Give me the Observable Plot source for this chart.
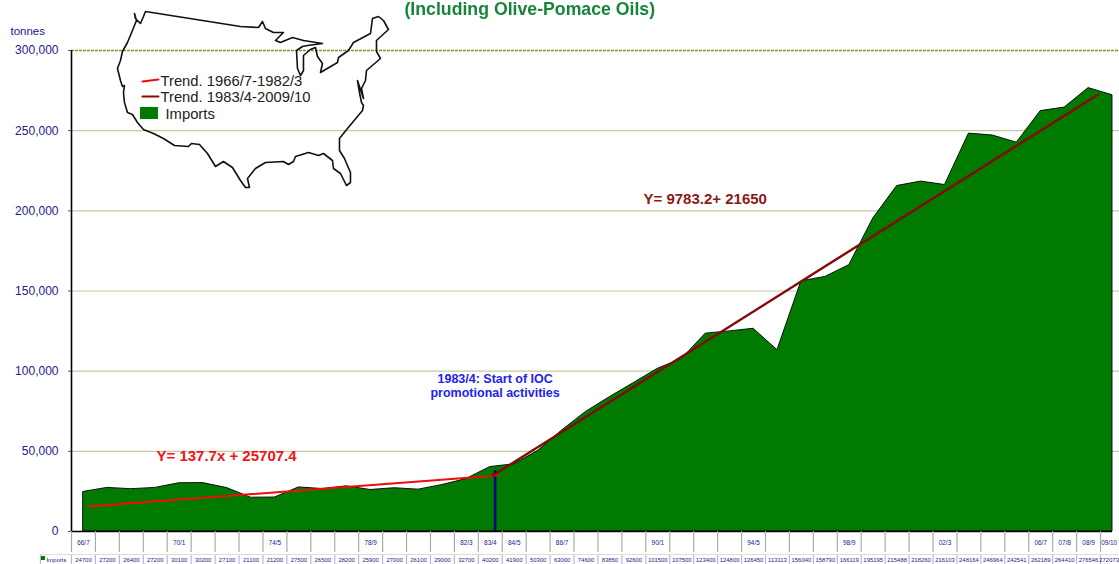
<!DOCTYPE html>
<html>
<head>
<meta charset="utf-8">
<script src="https://cdn.jsdelivr.net/npm/d3@7"></script>
<script src="https://cdn.jsdelivr.net/npm/@observablehq/plot@0.6"></script>
<style>
html,body{margin:0;padding:0;background:#fff;overflow:hidden}
svg{filter:blur(0.35px)}
</style>
</head>
<body>
<div id="chart"></div>
<script>
const imports = [24700,27200,26400,27200,30100,30200,27100,21100,21200,27500,26500,28200,25900,27000,26100,29000,32700,40200,41900,50300,63000,74600,83850,92600,101500,107500,123400,124800,126450,113113,156040,158790,166119,195195,215488,218260,216103,248164,246964,242541,262189,264410,276546,272073];
const seasonLabels = {0:"66/7",4:"70/1",8:"74/5",12:"78/9",16:"82/3",17:"83/4",18:"84/5",20:"86/7",24:"90/1",28:"94/5",32:"98/9",36:"02/3",40:"06/7",41:"07/8",42:"08/9",43:"09/10"};
const yTicks = [0,50000,100000,150000,200000,250000,300000];
const trendEarly = [{x:0.2,y:15600},{x:17.3,y:34900}];
const trendLate = [{x:17.1,y:34900},{x:42.4,y:272550}];

// USA outline, in sketch units of the page
const mapX = [145,240,258,262,265,273,283,275,280,292,303,322,307,302,296,297,300,303,303,310,315,317,322,320,337,338,348,353,370,372,378,383,388,376,376,380,366,365,361,363,357,359,361,363,362,347,339,339,344,350,350,346,340,333,332,323,318,308,295,293,288,283,265,255,247,249,245,240,232,223,215,207,199,191,188,174,163,153,143,137,132,127,124,123,124,122,120,117,120,122,127,132,136,134,135,140,143,145];
const mapY = [11,26,27,21,28,32,32,40,42,37,40,43,45,46,50,68,75,70,55,49,47,56,63,72,62,57,50,42,33,18,16,20,29,40,51,58,70,80,88,98,80,92,102,105,110,128,138,150,158,172,182,185,173,168,160,153,155,152,156,161,164,161,162,168,178,187,187,180,167,161,166,153,144,143,146,145,138,133,129,122,114,112,102,92,85,86,80,68,60,51,42,30,20,13,18,23,16,11];

const sx = p => (p - 83) / 23.93;
const sy = p => (531 - p) / 481 * 300000;
const idx = imports.map((_, i) => i);
const F = "Liberation Sans";
const navy = "#20208a";
const lastCol = i => (i === 43 ? 42.86 : i);

const label = (t, px, py, o) => Plot.text([{t, x: sx(px), y: sy(py)}], {x: "x", y: "y", text: "t", textAnchor: "start", lineAnchor: "middle", fontFamily: F, ...o});

const chart = Plot.plot({
  width: 1119, height: 564,
  marginLeft: 71, marginRight: 7, marginTop: 50, marginBottom: 33,
  style: {fontFamily: F, background: "#fff", overflow: "visible"},
  x: {domain: [-0.5, 43], axis: null},
  y: {domain: [0, 300000]},
  marks: [
    Plot.ruleY(yTicks.filter(d => d > 0 && d < 300000), {x1: () => -0.5, x2: () => sx(1119), stroke: "#c8c8a4", strokeWidth: 1.2}),
    Plot.ruleY([300000], {x1: () => -0.5, x2: () => sx(1119), stroke: "#8f8f2e", strokeWidth: 1.3, strokeDasharray: "3,1"}),
    Plot.areaY(idx, {x: i => i, y: i => imports[i], fill: "#007a00", stroke: "#000", strokeWidth: 0.9}),
    Plot.ruleX([17.2], {y1: () => 0, y2: () => 38000, stroke: "#00007f", strokeWidth: 2.6}),
    Plot.line(trendEarly, {x: "x", y: "y", stroke: "#f40a0a", strokeWidth: 2}),
    Plot.line(trendLate, {x: "x", y: "y", stroke: "#860808", strokeWidth: 2.4}),
    Plot.ruleX([-0.5], {y1: () => 0, y2: () => 300000, stroke: "#000", strokeWidth: 1.6}),
    Plot.ruleY([0], {x1: () => -0.5, x2: () => 43, stroke: "#000", strokeWidth: 1.6}),
    Plot.axisY(yTicks, {tickSize: 3, tickPadding: 10, tickFormat: d3.format(","), fontSize: 12, color: navy, stroke: "#555", label: null}),
    label("tonnes", 10, 31, {fontSize: 11.5, fill: navy}),

    // outline and legend
    Plot.line(mapX.map((_, i) => i), {x: i => sx(mapX[i]), y: i => sy(mapY[i]), stroke: "#111", strokeWidth: 1.6, strokeLinejoin: "round"}),
    Plot.line([0, 1], {x: i => sx(142 + i * 16), y: i => sy(81 - i * 2), stroke: "#f40a0a", strokeWidth: 2}),
    Plot.line([0, 1], {x: i => sx(142 + i * 16), y: i => sy(96), stroke: "#860808", strokeWidth: 2}),
    Plot.rect([0], {x1: () => sx(140), x2: () => sx(158), y1: () => sy(107), y2: () => sy(119), fill: "#007a00"}),
    label("Trend. 1966/7-1982/3", 160, 81, {fontSize: 14.8, fill: "#222"}),
    label("Trend. 1983/4-2009/10", 160, 97, {fontSize: 14.8, fill: "#222"}),
    label("Imports", 165, 114, {fontSize: 14.8, fill: "#222"}),

    // annotations
    label("(Including Olive-Pomace Oils)", 404, 9, {fontSize: 17.7, fontWeight: "bold", fill: "#15853a"}),
    label("1983/4: Start of IOC", 437, 378, {fontSize: 12.5, fontWeight: "bold", fill: "#2222f0"}),
    label("promotional activities", 430, 392, {fontSize: 12.5, fontWeight: "bold", fill: "#2222f0"}),
    label("Y= 137.7x + 25707.4", 156, 456, {fontSize: 15, fontWeight: "bold", fill: "#f41414"}),
    label("Y= 9783.2+ 21650", 643, 199, {fontSize: 15, fontWeight: "bold", fill: "#8b1a1a"}),

    // table under the axis
    Plot.ruleX(idx.map(i => i - 0.5), {x: d => d, y1: () => sy(531), y2: () => sy(552), stroke: "#aaa", strokeWidth: 1.2}),
    Plot.ruleX(idx.map(i => i - 0.5), {x: d => d, y1: () => sy(554), y2: () => sy(564), stroke: "#bbb", strokeWidth: 1.2}),
    Plot.ruleX([sx(40)], {x: d => d, y1: () => sy(554), y2: () => sy(564), stroke: "#bbb", strokeWidth: 1.2}),
    Plot.ruleY([sy(554)], {x1: () => sx(40), x2: () => sx(1119), stroke: "#ddd", strokeWidth: 1}),
    Plot.text(Object.keys(seasonLabels).map(Number), {x: d => lastCol(d), y: () => sy(542), text: d => seasonLabels[d], fontSize: 6.4, fill: navy, fontFamily: F}),
    Plot.text(idx, {x: i => lastCol(i), y: () => sy(560), text: i => String(imports[i]), fontSize: 5.9, fill: navy, fontFamily: F}),
    Plot.rect([0], {x1: () => sx(41), x2: () => sx(45), y1: () => sy(556), y2: () => sy(560), fill: "#007a00"}),
    label("Imports", 46, 560, {fontSize: 6, fill: navy})
  ]
});
document.getElementById("chart").append(chart);
</script>
</body>
</html>
